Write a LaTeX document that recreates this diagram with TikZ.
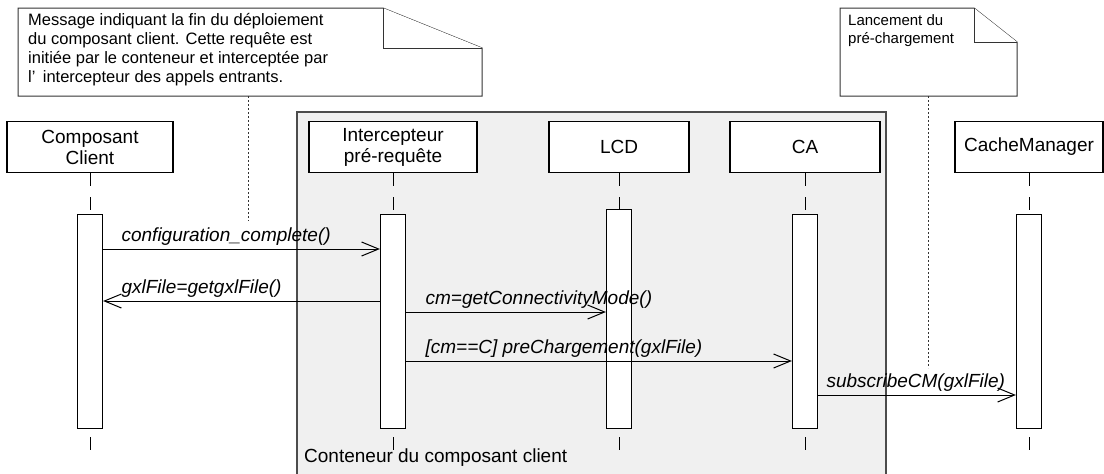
\documentclass[tikz,border=0pt]{standalone}
\usepackage{fontspec}
\setmainfont{Liberation Sans}
\usetikzlibrary{arrows.meta,positioning,calc}

\begin{document}
\begin{tikzpicture}[x=1pt,y=-1pt,>={Straight Barb[length=17pt,width=14pt]}]
\tikzstyle{head}=[draw,line width=1.2pt,fill=white,minimum height=51pt,align=center,inner sep=0pt,font=\fontsize{19}{21}\selectfont]
\tikzstyle{bar}=[draw,line width=1.2pt,fill=white,minimum width=25pt,inner sep=0pt]
\tikzstyle{life}=[line width=1pt,dash pattern=on 13pt off 11pt]
\tikzstyle{msg}=[->,line width=1pt]
\tikzstyle{lbl}=[font=\fontsize{19}{21}\selectfont\itshape,inner sep=0pt,anchor=base west,yshift=8pt]
\tikzstyle{note}=[draw=black!80,line width=1pt,fill=white]
\tikzstyle{notetxt}=[anchor=north west,align=left,inner sep=0pt,font=\fontsize{16.5}{19}\selectfont]
\tikzstyle{link}=[line width=1pt,dash pattern=on 2pt off 2pt,black!80]
\useasboundingbox (0,0) rectangle (1104,474);
% container
\node[draw=black!70,line width=2pt,fill=black!6,minimum width=589pt,minimum height=370pt,inner sep=0pt] (cont) at (591.5,297) {};
\node[font=\fontsize{19}{21}\selectfont,anchor=base west,inner sep=0pt] (contl) at (304,462) {Conteneur du composant client};
% notes
\draw[note] (18,8) -- (383,8) -- (482,48) -- (482,96) -- (18,96) -- cycle;
\draw[note] (383,8) -- (383,48) -- (482,48);
\node[notetxt] (n1) at (28,13) {Message indiquant la fin du déploiement\\du composant client. Cette requête est\\initiée par le conteneur et interceptée par\\l'\,\ intercepteur des appels entrants.};
\draw[note] (840,8) -- (974,8) -- (1017,42) -- (1017,96) -- (840,96) -- cycle;
\draw[note] (974,8) -- (974,42) -- (1017,42);
\node[notetxt,font=\fontsize{15}{18}\selectfont] (n2) at (848,14) {Lancement du\\pré-chargement};
\coordinate (n1a) at (248,96);
\coordinate (n1b) at (248,221);
\coordinate (n2a) at (928,96);
\coordinate (n2b) at (928,368);
\draw[link] (n1a) -- (n1b);
\draw[link] (n2a) -- (n2b);
% objects
\node[head,minimum width=166pt] (cc) at (90,147) {Composant\\Client};
\node[head,minimum width=168pt] (ip) at (393,147) {Intercepteur\\pré-requête};
\node[head,minimum width=140pt] (lcd) at (619,147) {LCD};
\node[head,minimum width=150pt] (ca) at (805,147) {CA};
\node[head,minimum width=148pt] (cm) at (1029,147) {CacheManager};
\foreach \n in {cc,ip,lcd,ca,cm}
  \draw[life] (\n.south) -- ++(0,279);
% activations
\node[bar,minimum height=214pt,below=41pt of cc] (ccb) {};
\node[bar,minimum height=214pt,below=41pt of ip] (ipb) {};
\node[bar,minimum height=219pt,below=36pt of lcd] (lcdb) {};
\node[bar,minimum height=214pt,below=41pt of ca] (cab) {};
\node[bar,minimum height=214pt,below=41pt of cm] (cmb) {};
% messages
\coordinate (y1) at (0,249);
\coordinate (y2) at (0,301);
\coordinate (y3) at (0,312);
\coordinate (y4) at (0,361);
\coordinate (y5) at (0,395);
\draw[msg] (ccb.east |- y1) -- (ipb.west |- y1) node[lbl,pos=0,xshift=18pt] (m1) {configuration\_complete()};
\draw[msg] (ipb.west |- y2) -- (ccb.east |- y2) node[lbl,pos=1,xshift=18pt] (m2) {gxlFile=getgxlFile()};
\draw[msg] (ipb.east |- y3) -- (lcdb.west |- y3) node[lbl,pos=0,xshift=19pt] (m3) {cm=getConnectivityMode()};
\draw[msg] (ipb.east |- y4) -- (cab.west |- y4) node[lbl,pos=0,xshift=19pt] (m4) {[cm==C] preChargement(gxlFile)};
\draw[msg] (cab.east |- y5) -- (cmb.west |- y5) node[lbl,pos=0,xshift=8pt] (m5) {subscribeCM(gxlFile)};
\end{tikzpicture}
\end{document}
